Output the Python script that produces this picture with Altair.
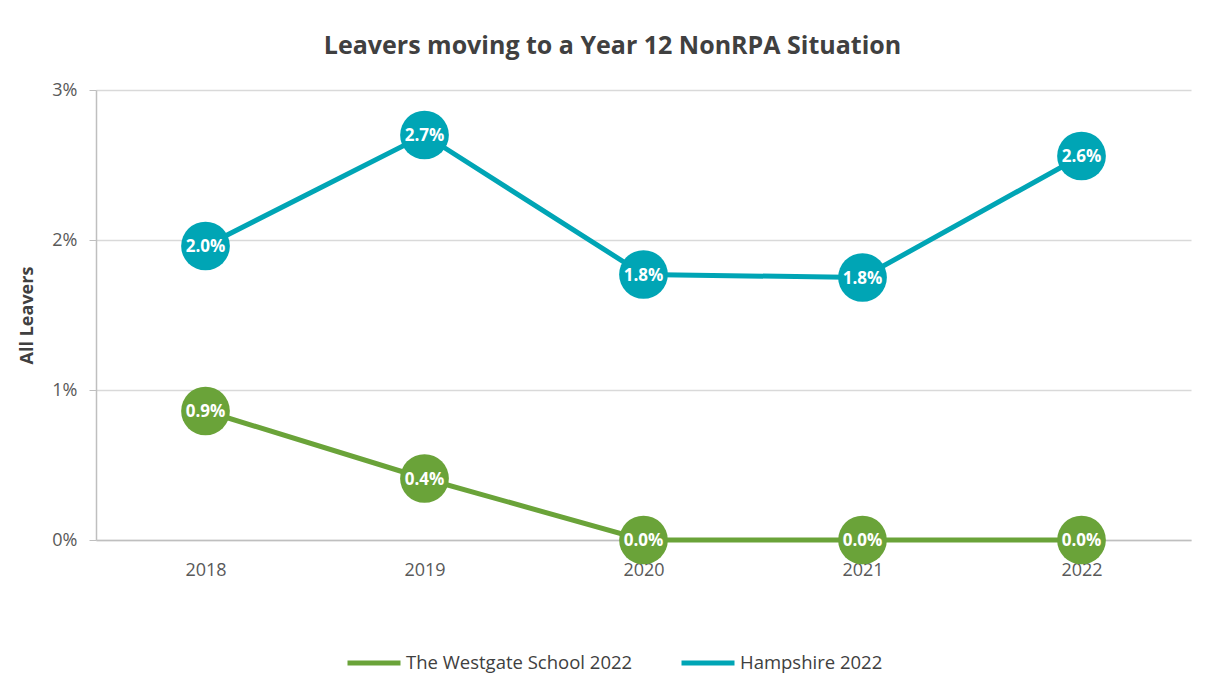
import altair as alt
import pandas as pd

years = ["2018", "2019", "2020", "2021", "2022"]
westgate = [0.0086, 0.0041, 0.0, 0.0, 0.0]
hampshire = [0.0196, 0.0270, 0.0177, 0.0175, 0.0256]
series_names = ["The Westgate School 2022", "Hampshire 2022"]
colors = ["#6AA339", "#00A5B5"]
y_ticks = [0, 0.01, 0.02, 0.03]

rows = []
for name, vals in zip(series_names, [westgate, hampshire]):
    for yr, v in zip(years, vals):
        rows.append({"year": yr, "series": name, "value": v})
df = pd.DataFrame(rows)

FONT = "Open Sans"

x_enc = alt.X(
    "year:O",
    scale=alt.Scale(type="point", padding=0.5),
    axis=alt.Axis(
        title=None, labelAngle=0, ticks=False, labelPadding=21,
        domainColor="#BFBFBF", domainWidth=1.5, grid=False,
        labelFontSize=18, labelColor="#595959", labelFont=FONT,
    ),
)
y_enc = alt.Y(
    "value:Q",
    scale=alt.Scale(domain=[0, 0.03], nice=False),
    axis=alt.Axis(
        title="All Leavers", values=y_ticks, format=".0%",
        tickSize=7, tickColor="#BFBFBF", domainColor="#BFBFBF", domainWidth=1.5,
        gridColor="#D9D9D9", gridWidth=1.5, labelPadding=12,
        labelFontSize=18, labelColor="#595959", labelFont=FONT,
        titleFontSize=18, titleFontWeight="bold", titleColor="#404040", titleFont=FONT,
        titleX=-60, titleY=225, titleAlign="center", titleBaseline="bottom", titleAngle=270,
    ),
)
color_scale = alt.Scale(domain=series_names, range=colors)

base = alt.Chart(df)

lines = base.mark_line(strokeWidth=5).encode(
    x=x_enc, y=y_enc,
    color=alt.Color(
        "series:N", scale=color_scale,
        legend=alt.Legend(
            title=None, orient="none", direction="horizontal",
            legendX=249, legendY=544,
            symbolType="stroke", symbolStrokeWidth=5, symbolSize=2809,
            labelFontSize=18.5, labelColor="#404040", labelFont=FONT,
            labelOffset=3, columnPadding=38, labelLimit=500,
        ),
    ),
)
points = base.mark_circle(size=2375, opacity=1).encode(
    x=x_enc, y=y_enc,
    fill=alt.Fill("series:N", scale=color_scale, legend=None),
)
labels = base.mark_text(
    color="white", fontWeight="bold", fontSize=17, font=FONT, baseline="middle", dy=1
).encode(
    x=x_enc, y=y_enc,
    text=alt.Text("value:Q", format=".1%"),
)

chart = alt.layer(lines, points, labels).properties(
    width=1095, height=450,
    title=alt.TitleParams(
        "Leavers moving to a Year 12 NonRPA Situation",
        fontSize=25, fontWeight="bold", color="#404040", font=FONT,
        anchor="middle", dx=-31, offset=22,
    ),
    autosize=alt.AutoSizeParams(type="none"),
    padding={"left": 88, "top": 82, "right": 10, "bottom": 145},
    background="white",
).configure_view(stroke=None)

chart.save("out.html", embed_options={"renderer": "svg", "actions": False})
